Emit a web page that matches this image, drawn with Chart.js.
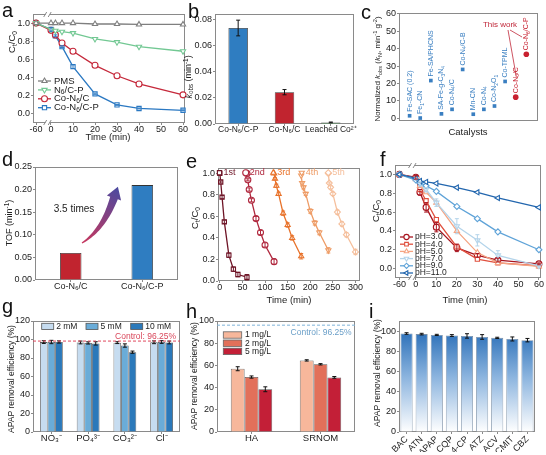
<!DOCTYPE html>
<html><head><meta charset="utf-8">
<script src="https://cdn.jsdelivr.net/npm/chart.js@4.4.1/dist/chart.umd.min.js"></script>
<style>
html,body{margin:0;padding:0;background:#fff;}
#wrap{position:relative;width:546px;height:455px;overflow:hidden;background:#fff;}
#wrap canvas{position:absolute;left:0;top:0;}
</style></head><body><div id="wrap"></div>
<script>
// ================= DATA =================
// (a) kinetics
const timeA = [-60, 0, 2, 5, 10, 20, 30, 40, 60];
const aPMS = [1.00, 1.00, 1.00, 1.00, 1.00, 0.99, 0.99, 0.985, 0.985];
const aN6CP = [1.00, 0.93, 0.915, 0.905, 0.89, 0.825, 0.79, 0.74, 0.69];
const aCoN6C = [1.00, 0.92, 0.87, 0.78, 0.69, 0.535, 0.42, 0.33, 0.21];
const aCoN6CP = [1.00, 0.93, 0.86, 0.74, 0.52, 0.22, 0.10, 0.06, 0.04];
const aCoN6CPErr = [0, 0.02, 0.01, 0.01, 0.02, 0.01, 0.005, 0.005, 0.005];
const aLegend = ['PMS', 'N_{6}/C-P', 'Co-N_{6}/C', 'Co-N_{6}/C-P'];
// (b) kobs
const bCats = ['Co-N₆/C-P', 'Co-N₆/C', 'Leached Co²⁺'];
const bKobs = [0.0733, 0.0243, 0.0012];
const bErr = [0.0060, 0.0020, 0.0003];
// (c) normalized kobs
const cRefCatalysts = ['Fe-SAC (0.2)', 'Fe_{1}-CN', 'Fe-SA/PHCNS', 'SA-Fe-g-C_{3}N_{4}', 'Co-N_{4}/C', 'Co-N_{4}/C-B', 'Mn-CN', 'Co-N_{4}', 'Co-N_{2}O_{1}', 'Co-TPML'];
const cRefKN = [1.5, 0.2, 21.7, 2.6, 5.2, 28.1, 2.4, 5.2, 7.1, 21.2];
const cThisCatalysts = ['Co-N_{6}/C', 'Co-N_{6}/C-P'];
const cThisKN = [12.2, 36.8];
// (d) TOF
const dCats = ['Co-N₆/C', 'Co-N₆/C-P'];
const dTOF = [0.060, 0.210];
// (e) cycles
const eT1 = [0, 2, 5, 10, 20, 30, 40, 60];
const eC1 = [1.00, 0.92, 0.78, 0.55, 0.24, 0.11, 0.06, 0.035];
const eT2 = [60, 62, 65, 70, 80, 90, 100, 120];
const eC2 = [1.00, 0.94, 0.85, 0.75, 0.58, 0.45, 0.335, 0.18];
const eT3 = [120, 122, 125, 130, 140, 150, 160, 180];
const eC3 = [1.00, 0.95, 0.885, 0.81, 0.63, 0.52, 0.40, 0.23];
const eT4 = [180, 182, 185, 190, 200, 210, 220, 240];
const eC4 = [0.98, 0.91, 0.87, 0.81, 0.65, 0.54, 0.45, 0.285];
const eT5 = [240, 242, 245, 250, 260, 270, 280, 300];
const eC5 = [1.00, 0.91, 0.87, 0.81, 0.64, 0.53, 0.43, 0.27];
const eErr = [0, 0.01, 0.015, 0.015, 0.02, 0.02, 0.02, 0.025];
const eLegend = ['1st', '2nd', '3rd', '4th', '5th'];
// (f) pH
const fTime = [-60, 0, 2, 5, 10, 20, 30, 40, 60];
const fPH3 = [1.00, 0.97, 0.81, 0.65, 0.44, 0.22, 0.14, 0.09, 0.05];
const fPH4 = [1.00, 0.96, 0.84, 0.72, 0.52, 0.23, 0.10, 0.06, 0.03];
const fPH5 = [1.00, 0.95, 0.88, 0.81, 0.70, 0.40, 0.17, 0.06, 0.025];
const fPH7 = [1.00, 0.95, 0.90, 0.84, 0.70, 0.45, 0.30, 0.14, 0.03];
const fPH9 = [1.00, 0.94, 0.91, 0.88, 0.82, 0.66, 0.53, 0.39, 0.20];
const fPH11 = [1.00, 0.96, 0.93, 0.92, 0.905, 0.86, 0.81, 0.75, 0.65];
const fErr3 = [0, 0.02, 0.03, 0.05, 0.05, 0.04, 0.02, 0.02, 0.01];
const fErr7 = [0, 0.01, 0.02, 0.02, 0.04, 0.08, 0.06, 0.05, 0.01];
const fLegend = ['pH=3.0', 'pH=4.0', 'pH=5.0', 'pH=7.0', 'pH=9.0', 'pH=11.0'];
// (g) anions
const gAnions = ['NO₃⁻', 'PO₄³⁻', 'CO₃²⁻', 'Cl⁻'];
const g2mM = [97.2, 96.8, 96.6, 97.0];
const g5mM = [97.3, 96.3, 93.5, 97.3];
const g10mM = [97.3, 95.8, 86.3, 96.8];
const g2mMErr = [1.5, 1.5, 1.0, 1.5];
const g5mMErr = [1.8, 1.2, 1.8, 1.5];
const g10mMErr = [1.2, 1.8, 1.2, 1.5];
const gLegend = ['2 mM', '5 mM', '10 mM'];
const gControl = 98.3;
// (h) NOM
const hNOM = ['HA', 'SRNOM'];
const h1 = [57.0, 64.5];
const h2 = [49.5, 61.0];
const h5 = [38.5, 49.2];
const h1Err = [1.8, 0.6];
const h2Err = [1.0, 0.6];
const h5Err = [2.2, 0.8];
const hLegend = ['1 mg/L', '2 mg/L', '5 mg/L'];
const hControl = 96.25;
// (i) pollutants
const iPollutants = ['BAC', 'ATN', 'APAP', 'CQP', '4-CP', 'ATZ', 'ACV', 'CMIT', 'CBZ'];
const iRemoval = [97.6, 97.0, 96.2, 95.6, 95.2, 94.2, 93.3, 92.2, 91.0];
const iErr = [0.8, 0.8, 0.6, 0.9, 2.2, 2.3, 0.6, 2.0, 1.7];

// ================= HELPERS =================
const FONT = "'Liberation Sans', Arial, Helvetica, sans-serif";
Chart.defaults.font.family = FONT;
Chart.defaults.font.size = 9;
Chart.defaults.color = '#222';
Chart.defaults.animation = false;
const W = 546, H = 455, AX = '#8a8a8a';

function newCanvas() {
  const c = document.createElement('canvas');
  c.width = W; c.height = H; c.style.width = W + 'px'; c.style.height = H + 'px';
  document.getElementById('wrap').appendChild(c);
  return c;
}
function P(str) {
  const out = []; const re = /([_^~])\{([^}]*)\}/g; let last = 0, m;
  while ((m = re.exec(str))) {
    if (m.index > last) out.push([str.slice(last, m.index), '']);
    out.push([m[2], m[1] === '_' ? 'sub' : m[1] === '^' ? 'sup' : 'it']);
    last = re.lastIndex;
  }
  if (last < str.length) out.push([str.slice(last), '']);
  return out;
}
function rich(ctx, str, x, y, o) {
  const parts = P(str); const s = o.size || 10;
  ctx.save(); ctx.translate(x, y); if (o.rot) ctx.rotate(o.rot);
  ctx.fillStyle = o.color || '#222'; ctx.textBaseline = 'middle'; ctx.textAlign = 'left';
  const f = st => (st === 'it' ? 'italic ' : '') + ((st === 'sub' || st === 'sup') ? (s * 0.7).toFixed(1) : s) + 'px ' + FONT;
  let tot = 0; parts.forEach(p => { ctx.font = f(p[1]); tot += ctx.measureText(p[0]).width; });
  let cx = o.align === 'left' ? 0 : o.align === 'right' ? -tot : -tot / 2;
  parts.forEach(p => {
    ctx.font = f(p[1]);
    const dy = p[1] === 'sub' ? s * 0.28 : p[1] === 'sup' ? -s * 0.32 : 0;
    ctx.fillText(p[0], cx, dy); cx += ctx.measureText(p[0]).width;
  });
  ctx.restore();
}
function linAxis(min, max, ticks, fmt, extra) {
  return Object.assign({
    type: 'linear', min, max,
    afterBuildTicks: s => { s.ticks = ticks.map(v => ({ value: v })); },
    grid: { drawOnChartArea: false, tickLength: 2, color: AX },
    border: { display: false },
    ticks: { padding: 1, autoSkip: false, maxRotation: 0, callback: fmt, color: '#222' }
  }, extra || {});
}
function xLin(min, max, ticks, fmt) {
  const a = linAxis(min, max, ticks, fmt); a.ticks.padding = -1; return a;
}
function catAxis(extraTicks) {
  return {
    type: 'category',
    grid: { drawOnChartArea: false, tickLength: 2, color: AX, offset: false },
    border: { display: false },
    ticks: Object.assign({ padding: -1, autoSkip: false, maxRotation: 0, color: '#222' }, extraTicks || {})
  };
}
function frame(ch) {
  const a = ch.chartArea, c = ch.ctx;
  c.save(); c.strokeStyle = AX; c.lineWidth = 1;
  c.strokeRect(Math.round(a.left) + 0.5, Math.round(a.top) + 0.5, Math.round(a.right - a.left) - 1, Math.round(a.bottom - a.top) - 1);
  c.restore();
}
function marker(c, x, y, color, style, rot, r, fill) {
  c.save(); c.strokeStyle = color; c.fillStyle = fill || '#fff'; c.lineWidth = 1.1;
  Chart.helpers.drawPoint(c, { pointStyle: style, radius: r, rotation: rot || 0, borderWidth: 1.1 }, x, y);
  c.restore();
}
function brk(c, x, y) {
  c.save(); c.fillStyle = '#fff'; c.fillRect(x - 2, y - 2, 4, 4);
  c.strokeStyle = AX; c.lineWidth = 1;
  c.beginPath(); c.moveTo(x - 4, y + 2.5); c.lineTo(x - 1, y - 2.5); c.moveTo(x + 0.5, y + 2.5); c.lineTo(x + 3.5, y - 2.5); c.stroke();
  c.restore();
}
function lineDs(xs, ys, color, style, rot, fx, err, r) {
  return {
    data: xs.map((t, i) => ({ x: fx ? fx(t) : t, y: ys[i] })),
    borderColor: color, backgroundColor: color, pointBackgroundColor: '#fff', pointBorderColor: color,
    pointStyle: style, pointRotation: rot || 0, pointRadius: r || 3, pointBorderWidth: 1.1,
    borderWidth: 1.3, tension: 0, clip: false, err
  };
}
Chart.register({
  id: 'errbars',
  afterDatasetsDraw(chart) {
    const c = chart.ctx, ys = chart.scales.y;
    chart.data.datasets.forEach((ds, di) => {
      if (!ds.err) return;
      const meta = chart.getDatasetMeta(di);
      c.save(); c.strokeStyle = ds.errColor || ds.borderColor; c.lineWidth = 1;
      meta.data.forEach((el, i) => {
        const e = ds.err[i]; if (!e) return;
        const d = ds.data[i]; const v = typeof d === 'object' ? d.y : d;
        const y1 = ys.getPixelForValue(v + e), y2 = ys.getPixelForValue(v - e), x = el.x, cw = ds.capW || 2;
        c.beginPath(); c.moveTo(x, y1); c.lineTo(x, y2);
        c.moveTo(x - cw, y1); c.lineTo(x + cw, y1); c.moveTo(x - cw, y2); c.lineTo(x + cw, y2); c.stroke();
      });
      c.restore();
    });
  }
});
function panel(letter, lx, ly, box, cfg, yw, xh, extra) {
  const o = cfg.options;
  o.responsive = false; o.animation = false; o.events = [];
  o.layout = { padding: { left: box.L - yw, top: box.T, right: W - box.R, bottom: H - box.B - xh } };
  o.scales.x.afterFit = s => { s.height = xh; };
  o.scales.y.afterFit = s => { s.width = yw; };
  o.plugins = Object.assign({ legend: { display: false }, tooltip: { enabled: false } }, o.plugins || {});
  cfg.plugins = [{
    id: 'p' + letter,
    beforeDatasetsDraw(ch) { frame(ch); },
    afterDraw(ch) {
      const c = ch.ctx; c.save(); c.font = '20px ' + FONT; c.fillStyle = '#111'; c.textBaseline = 'alphabetic';
      c.fillText(letter, lx, ly); c.restore();
      if (extra) extra(ch, c);
    }
  }];
  return new Chart(newCanvas(), cfg);
}
const f1 = v => v.toFixed(1), f2 = v => v.toFixed(2), fi = v => String(v);
const ROT = -Math.PI / 2;

// ================= (a) =================
const brkA = t => t < 0 ? -6.8 : t;
const aCols = ['#7f7f7f', '#72c893', '#c5283a', '#2a78c2'];
const aSty = [['triangle', 0], ['triangle', 180], ['circle', 0], ['rect', 0]];
panel('a', 2, 17, { L: 33, T: 14, R: 185, B: 123 }, {
  type: 'line',
  data: { datasets: [
    lineDs(timeA, aPMS, aCols[0], 'triangle', 0, brkA),
    lineDs(timeA, aN6CP, aCols[1], 'triangle', 180, brkA),
    lineDs(timeA, aCoN6C, aCols[2], 'circle', 0, brkA),
    lineDs(timeA, aCoN6CP, aCols[3], 'rect', 0, brkA, aCoN6CPErr)
  ] },
  options: { scales: {
    x: xLin(-8.18, 60.9, [-6.8, 0, 10, 20, 30, 40, 50, 60], v => v < 0 ? '-60' : String(v)),
    y: linAxis(-0.1, 1.1, [0, 0.2, 0.4, 0.6, 0.8, 1.0], f1)
  } }
}, 30, 14, (ch, c) => {
  const xp = ch.scales.x.getPixelForValue(-1.5);
  brk(c, xp, ch.chartArea.top + 0.5); brk(c, xp, ch.chartArea.bottom - 0.5);
  rich(c, 'C_{t}/C_{0}', 12.5, 42, { rot: ROT, size: 9.5 });
  rich(c, 'Time (min)', 108, 137, { size: 9.5 });
  aLegend.forEach((t, i) => {
    const y = 81 + i * 8.9;
    c.save(); c.strokeStyle = aCols[i]; c.lineWidth = 1.3; c.beginPath(); c.moveTo(38, y); c.lineTo(51, y); c.stroke(); c.restore();
    marker(c, 44.5, y, aCols[i], aSty[i][0], aSty[i][1], 3);
    rich(c, t, 54, y, { size: 9.5, align: 'left' });
  });
});

// ================= (b) =================
panel('b', 188, 18, { L: 215, T: 14, R: 354, B: 124 }, {
  type: 'bar',
  data: { labels: bCats, datasets: [{
    data: bKobs, backgroundColor: ['#2f7dc1', '#c1242f', '#2e9e3e'], borderColor: '#333', borderWidth: 0.8,
    barPercentage: 0.42, categoryPercentage: 1, err: bErr, errColor: '#111', capW: 2
  }] },
  options: { scales: {
    x: catAxis({ font: { size: 8.5 } }),
    y: linAxis(0, 0.084, [0, 0.02, 0.04, 0.06, 0.08], f2)
  } }
}, 26, 14, (ch, c) => {
  rich(c, '~{k}_{obs} (min^{-1})', 189, 77, { rot: ROT, size: 9 });
});

// ================= (c) =================
panel('c', 361, 19, { L: 399, T: 13, R: 538, B: 121 }, {
  type: 'scatter',
  data: { datasets: [
    { data: cRefKN.map((v, i) => ({ x: i + 1, y: v })), pointStyle: 'rect', pointRadius: 2.6, backgroundColor: '#3a7fc1', borderColor: '#3a7fc1', pointBorderWidth: 0, clip: false },
    { data: cThisKN.map((v, i) => ({ x: cRefKN.length + i + 1, y: v })), pointStyle: 'circle', pointRadius: 2.8, backgroundColor: '#c8202f', borderColor: '#c8202f', pointBorderWidth: 0, clip: false }
  ] },
  options: { scales: {
    x: { type: 'linear', min: 0, max: 13.1, grid: { display: false }, border: { display: false }, ticks: { display: false } },
    y: linAxis(-1.5, 60.5, [0, 10, 20, 30, 40, 50, 60], fi)
  } }
}, 25, 14, (ch, c) => {
  const lab = (di, names, col) => {
    ch.getDatasetMeta(di).data.forEach((el, i) => rich(c, names[i], el.x, el.y - 4, { rot: ROT, size: 7, align: 'left', color: col }));
  };
  lab(0, cRefCatalysts, '#3a7fc1'); lab(1, cThisCatalysts, '#c8202f');
  rich(c, 'This work', 500, 25, { size: 8, color: '#c0283a' });
  c.save(); c.strokeStyle = '#c0283a'; c.lineWidth = 0.8; c.beginPath();
  c.moveTo(508, 30); c.lineTo(516, 75); c.moveTo(510, 30); c.lineTo(522, 37); c.stroke(); c.restore();
  rich(c, 'Normalized ~{k}_{obs} (~{k}_{N}, min^{-1} g^{-2})', 378, 69, { rot: ROT, size: 8 });
  rich(c, 'Catalysts', 468, 132, { size: 9.5 });
});

// ================= (d) =================
function arrowD(c) {
  const P0 = [82, 243], P1 = [103, 230], P2 = [114, 198];
  const g = c.createLinearGradient(82, 243, 118, 187); g.addColorStop(0, '#c8375e'); g.addColorStop(1, '#4a4aa0');
  const Lp = [], Rp = [], N = 24;
  for (let k = 0; k <= N; k++) {
    const t = k / N;
    const x = (1 - t) * (1 - t) * P0[0] + 2 * (1 - t) * t * P1[0] + t * t * P2[0];
    const y = (1 - t) * (1 - t) * P0[1] + 2 * (1 - t) * t * P1[1] + t * t * P2[1];
    const dx = 2 * (1 - t) * (P1[0] - P0[0]) + 2 * t * (P2[0] - P1[0]);
    const dy = 2 * (1 - t) * (P1[1] - P0[1]) + 2 * t * (P2[1] - P1[1]);
    const len = Math.hypot(dx, dy), nx = -dy / len, ny = dx / len, w = 0.6 + 3.4 * t;
    Lp.push([x + nx * w, y + ny * w]); Rp.push([x - nx * w, y - ny * w]);
  }
  const dx = P2[0] - P1[0], dy = P2[1] - P1[1], len = Math.hypot(dx, dy), ux = dx / len, uy = dy / len, nx = -uy, ny = ux;
  c.save(); c.fillStyle = g; c.beginPath(); c.moveTo(Lp[0][0], Lp[0][1]);
  Lp.forEach(p => c.lineTo(p[0], p[1]));
  c.lineTo(P2[0] + nx * 7.5, P2[1] + ny * 7.5); c.lineTo(P2[0] + ux * 12, P2[1] + uy * 12); c.lineTo(P2[0] - nx * 7.5, P2[1] - ny * 7.5);
  for (let k = Rp.length - 1; k >= 0; k--) c.lineTo(Rp[k][0], Rp[k][1]);
  c.closePath(); c.fill(); c.restore();
}
panel('d', 2, 166, { L: 35, T: 167, R: 178, B: 280 }, {
  type: 'bar',
  data: { labels: dCats, datasets: [{
    data: dTOF, backgroundColor: ['#c1242f', '#2f7dc1'], borderColor: '#333', borderWidth: 0.8,
    barPercentage: 0.3, categoryPercentage: 1
  }] },
  options: { scales: {
    x: catAxis({ font: { size: 9 } }),
    y: linAxis(0, 0.25, [0, 0.05, 0.10, 0.15, 0.20, 0.25], f2)
  } }
}, 30, 14, (ch, c) => {
  arrowD(c);
  rich(c, '3.5 times', 74, 209, { size: 10 });
  rich(c, 'TOF (min^{-1})', 10, 223, { rot: ROT, size: 9 });
});

// ================= (e) =================
const eCols = ['#6e1426', '#b0283e', '#e8722a', '#ee9c66', '#f5bf9c'];
const eSty = [['rect', 0], ['circle', 0], ['triangle', 0], ['triangle', 180], ['rectRot', 0]];
panel('e', 186, 168, { L: 218, T: 168, R: 360, B: 281 }, {
  type: 'line',
  data: { datasets: [
    lineDs(eT1, eC1, eCols[0], 'rect', 0, null, eErr),
    lineDs(eT2, eC2, eCols[1], 'circle', 0, null, eErr),
    lineDs(eT3, eC3, eCols[2], 'triangle', 0, null, eErr),
    lineDs(eT4, eC4, eCols[3], 'triangle', 180, null, eErr),
    lineDs(eT5, eC5, eCols[4], 'rectRot', 0, null, eErr)
  ] },
  options: { scales: {
    x: xLin(-4, 310, [0, 50, 100, 150, 200, 250, 300], fi),
    y: linAxis(0, 1.05, [0, 0.2, 0.4, 0.6, 0.8, 1.0], f1)
  } }
}, 30, 14, (ch, c) => {
  const mx = [219.5, 245.7, 273.3, 301.7, 328.3];
  eLegend.forEach((t, i) => {
    marker(c, mx[i], 172.7, eCols[i], eSty[i][0], eSty[i][1], 3);
    rich(c, t, mx[i] + 4, 173, { size: 9, align: 'left', color: eCols[i] });
  });
  rich(c, 'C_{t}/C_{0}', 195.8, 218, { rot: ROT, size: 9.5 });
  rich(c, 'Time (min)', 289, 300, { size: 9.5 });
});

// ================= (f) =================
const brkF = t => t < 0 ? -8 : t;
const fCols = ['#a8141f', '#e0503e', '#f5a482', '#b4d4ea', '#5fa3d8', '#2266ae'];
const fSty = [['circle', 0], ['rect', 0], ['triangle', 0], ['triangle', 180], ['rectRot', 0], ['triangle', 270]];
panel('f', 380, 166, { L: 395, T: 165, R: 542, B: 278 }, {
  type: 'line',
  data: { datasets: [
    lineDs(fTime, fPH11, fCols[5], 'triangle', 270, brkF),
    lineDs(fTime, fPH9, fCols[4], 'rectRot', 0, brkF),
    lineDs(fTime, fPH7, fCols[3], 'triangle', 180, brkF, fErr7),
    lineDs(fTime, fPH5, fCols[2], 'triangle', 0, brkF),
    lineDs(fTime, fPH4, fCols[1], 'rect', 0, brkF),
    lineDs(fTime, fPH3, fCols[0], 'circle', 0, brkF, fErr3)
  ] },
  options: { scales: {
    x: xLin(-10.16, 60.97, [-8, 0, 10, 20, 30, 40, 50, 60], v => v < 0 ? '-60' : String(v)),
    y: linAxis(-0.1, 1.1, [0, 0.2, 0.4, 0.6, 0.8, 1.0], f1)
  } }
}, 30, 14, (ch, c) => {
  const xp = ch.scales.x.getPixelForValue(-1.6);
  brk(c, xp, ch.chartArea.top + 0.5); brk(c, xp, ch.chartArea.bottom - 0.5);
  fLegend.forEach((t, i) => {
    const y = 237 + i * 7.2;
    c.save(); c.strokeStyle = fCols[i]; c.lineWidth = 1.3; c.beginPath(); c.moveTo(400, y); c.lineTo(413, y); c.stroke(); c.restore();
    marker(c, 406.5, y, fCols[i], fSty[i][0], fSty[i][1], 2.6);
    rich(c, t, 415, y, { size: 8.5, align: 'left' });
  });
  rich(c, 'C_{t}/C_{0}', 376.7, 211, { rot: ROT, size: 9.5 });
  rich(c, 'Time (min)', 465, 300, { size: 9.5 });
});

// ================= (g) =================
const gCols = ['#c6dcf0', '#6aacd8', '#2b79ba'];
const barDs = (data, col, err, bc) => ({ data, backgroundColor: col, borderColor: bc || '#555', borderWidth: 0.8, err, errColor: '#111', capW: 2 });
panel('g', 2, 313, { L: 33, T: 321, R: 180, B: 432 }, {
  type: 'bar',
  data: { labels: gAnions, datasets: [barDs(g2mM, gCols[0], g2mMErr), barDs(g5mM, gCols[1], g5mMErr), barDs(g10mM, gCols[2], g10mMErr)] },
  options: {
    datasets: { bar: { categoryPercentage: 0.62, barPercentage: 1 } },
    scales: { x: catAxis({ font: { size: 9.5 } }), y: linAxis(0, 120, [0, 20, 40, 60, 80, 100, 120], fi) }
  }
}, 26, 18, (ch, c) => {
  const yv = ch.scales.y.getPixelForValue(gControl);
  c.save(); c.strokeStyle = '#e0485c'; c.lineWidth = 1; c.setLineDash([3, 2]); c.beginPath();
  c.moveTo(ch.chartArea.left, yv); c.lineTo(ch.chartArea.right, yv); c.stroke(); c.restore();
  rich(c, 'Control: 96.25%', 176, 336.5, { size: 8.5, align: 'right', color: '#d9465a' });
  const bx = [41.7, 86, 130.7];
  gLegend.forEach((t, i) => {
    c.save(); c.fillStyle = gCols[i]; c.strokeStyle = '#555'; c.lineWidth = 0.8;
    c.fillRect(bx[i], 323.3, 12, 6.2); c.strokeRect(bx[i], 323.3, 12, 6.2); c.restore();
    rich(c, t, bx[i] + 14.5, 326.5, { size: 8.5, align: 'left' });
  });
  rich(c, 'APAP removal efficiency (%)', 11.5, 379, { rot: ROT, size: 8.5 });
});

// ================= (h) =================
const hCols = ['#f7b79b', '#e2705a', '#c31f37'];
panel('h', 186, 318, { L: 217, T: 321, R: 355, B: 432 }, {
  type: 'bar',
  data: { labels: hNOM, datasets: [barDs(h1, hCols[0], h1Err), barDs(h2, hCols[1], h2Err), barDs(h5, hCols[2], h5Err)] },
  options: {
    datasets: { bar: { categoryPercentage: 0.6, barPercentage: 1 } },
    scales: { x: catAxis({ font: { size: 9.5 } }), y: linAxis(0, 100, [0, 20, 40, 60, 80, 100], fi) }
  }
}, 26, 14, (ch, c) => {
  const yv = ch.scales.y.getPixelForValue(hControl);
  c.save(); c.strokeStyle = '#7fb3d9'; c.lineWidth = 1; c.setLineDash([3, 2]); c.beginPath();
  c.moveTo(ch.chartArea.left, yv); c.lineTo(ch.chartArea.right, yv); c.stroke(); c.restore();
  rich(c, 'Control: 96.25%', 351.5, 332.3, { size: 8.5, align: 'right', color: '#6a9fc8' });
  hLegend.forEach((t, i) => {
    const y = 335 + i * 8.2;
    c.save(); c.fillStyle = hCols[i]; c.strokeStyle = '#666'; c.lineWidth = 0.8;
    c.fillRect(223.3, y - 3.2, 18.4, 6.4); c.strokeRect(223.3, y - 3.2, 18.4, 6.4); c.restore();
    rich(c, t, 245, y, { size: 8.5, align: 'left' });
  });
  rich(c, 'APAP removal efficiency (%)', 195, 376, { rot: ROT, size: 8.5 });
});

// ================= (i) =================
panel('i', 369, 318, { L: 399, T: 321, R: 535, B: 432 }, {
  type: 'bar',
  data: { labels: iPollutants, datasets: [{
    data: iRemoval, borderColor: '#7a8fa6', borderWidth: 0.8, barPercentage: 0.8, categoryPercentage: 1,
    err: iErr, errColor: '#111', capW: 2,
    backgroundColor: ctx => {
      const ch = ctx.chart; if (!ch.chartArea) return '#4a86c5';
      const y = ch.scales.y;
      const g = ch.ctx.createLinearGradient(0, y.getPixelForValue(98), 0, y.getPixelForValue(0));
      g.addColorStop(0, '#2f72ba'); g.addColorStop(0.45, '#8db5df'); g.addColorStop(1, '#ffffff');
      return g;
    }
  }] },
  options: { scales: {
    x: catAxis({ font: { size: 9 }, minRotation: 45, maxRotation: 45, padding: 0 }),
    y: linAxis(0, 110, [0, 20, 40, 60, 80, 100], fi)
  } }
}, 26, 20, (ch, c) => {
  rich(c, 'APAP removal efficiency (%)', 378, 373, { rot: ROT, size: 8.5 });
});
</script></body></html>
